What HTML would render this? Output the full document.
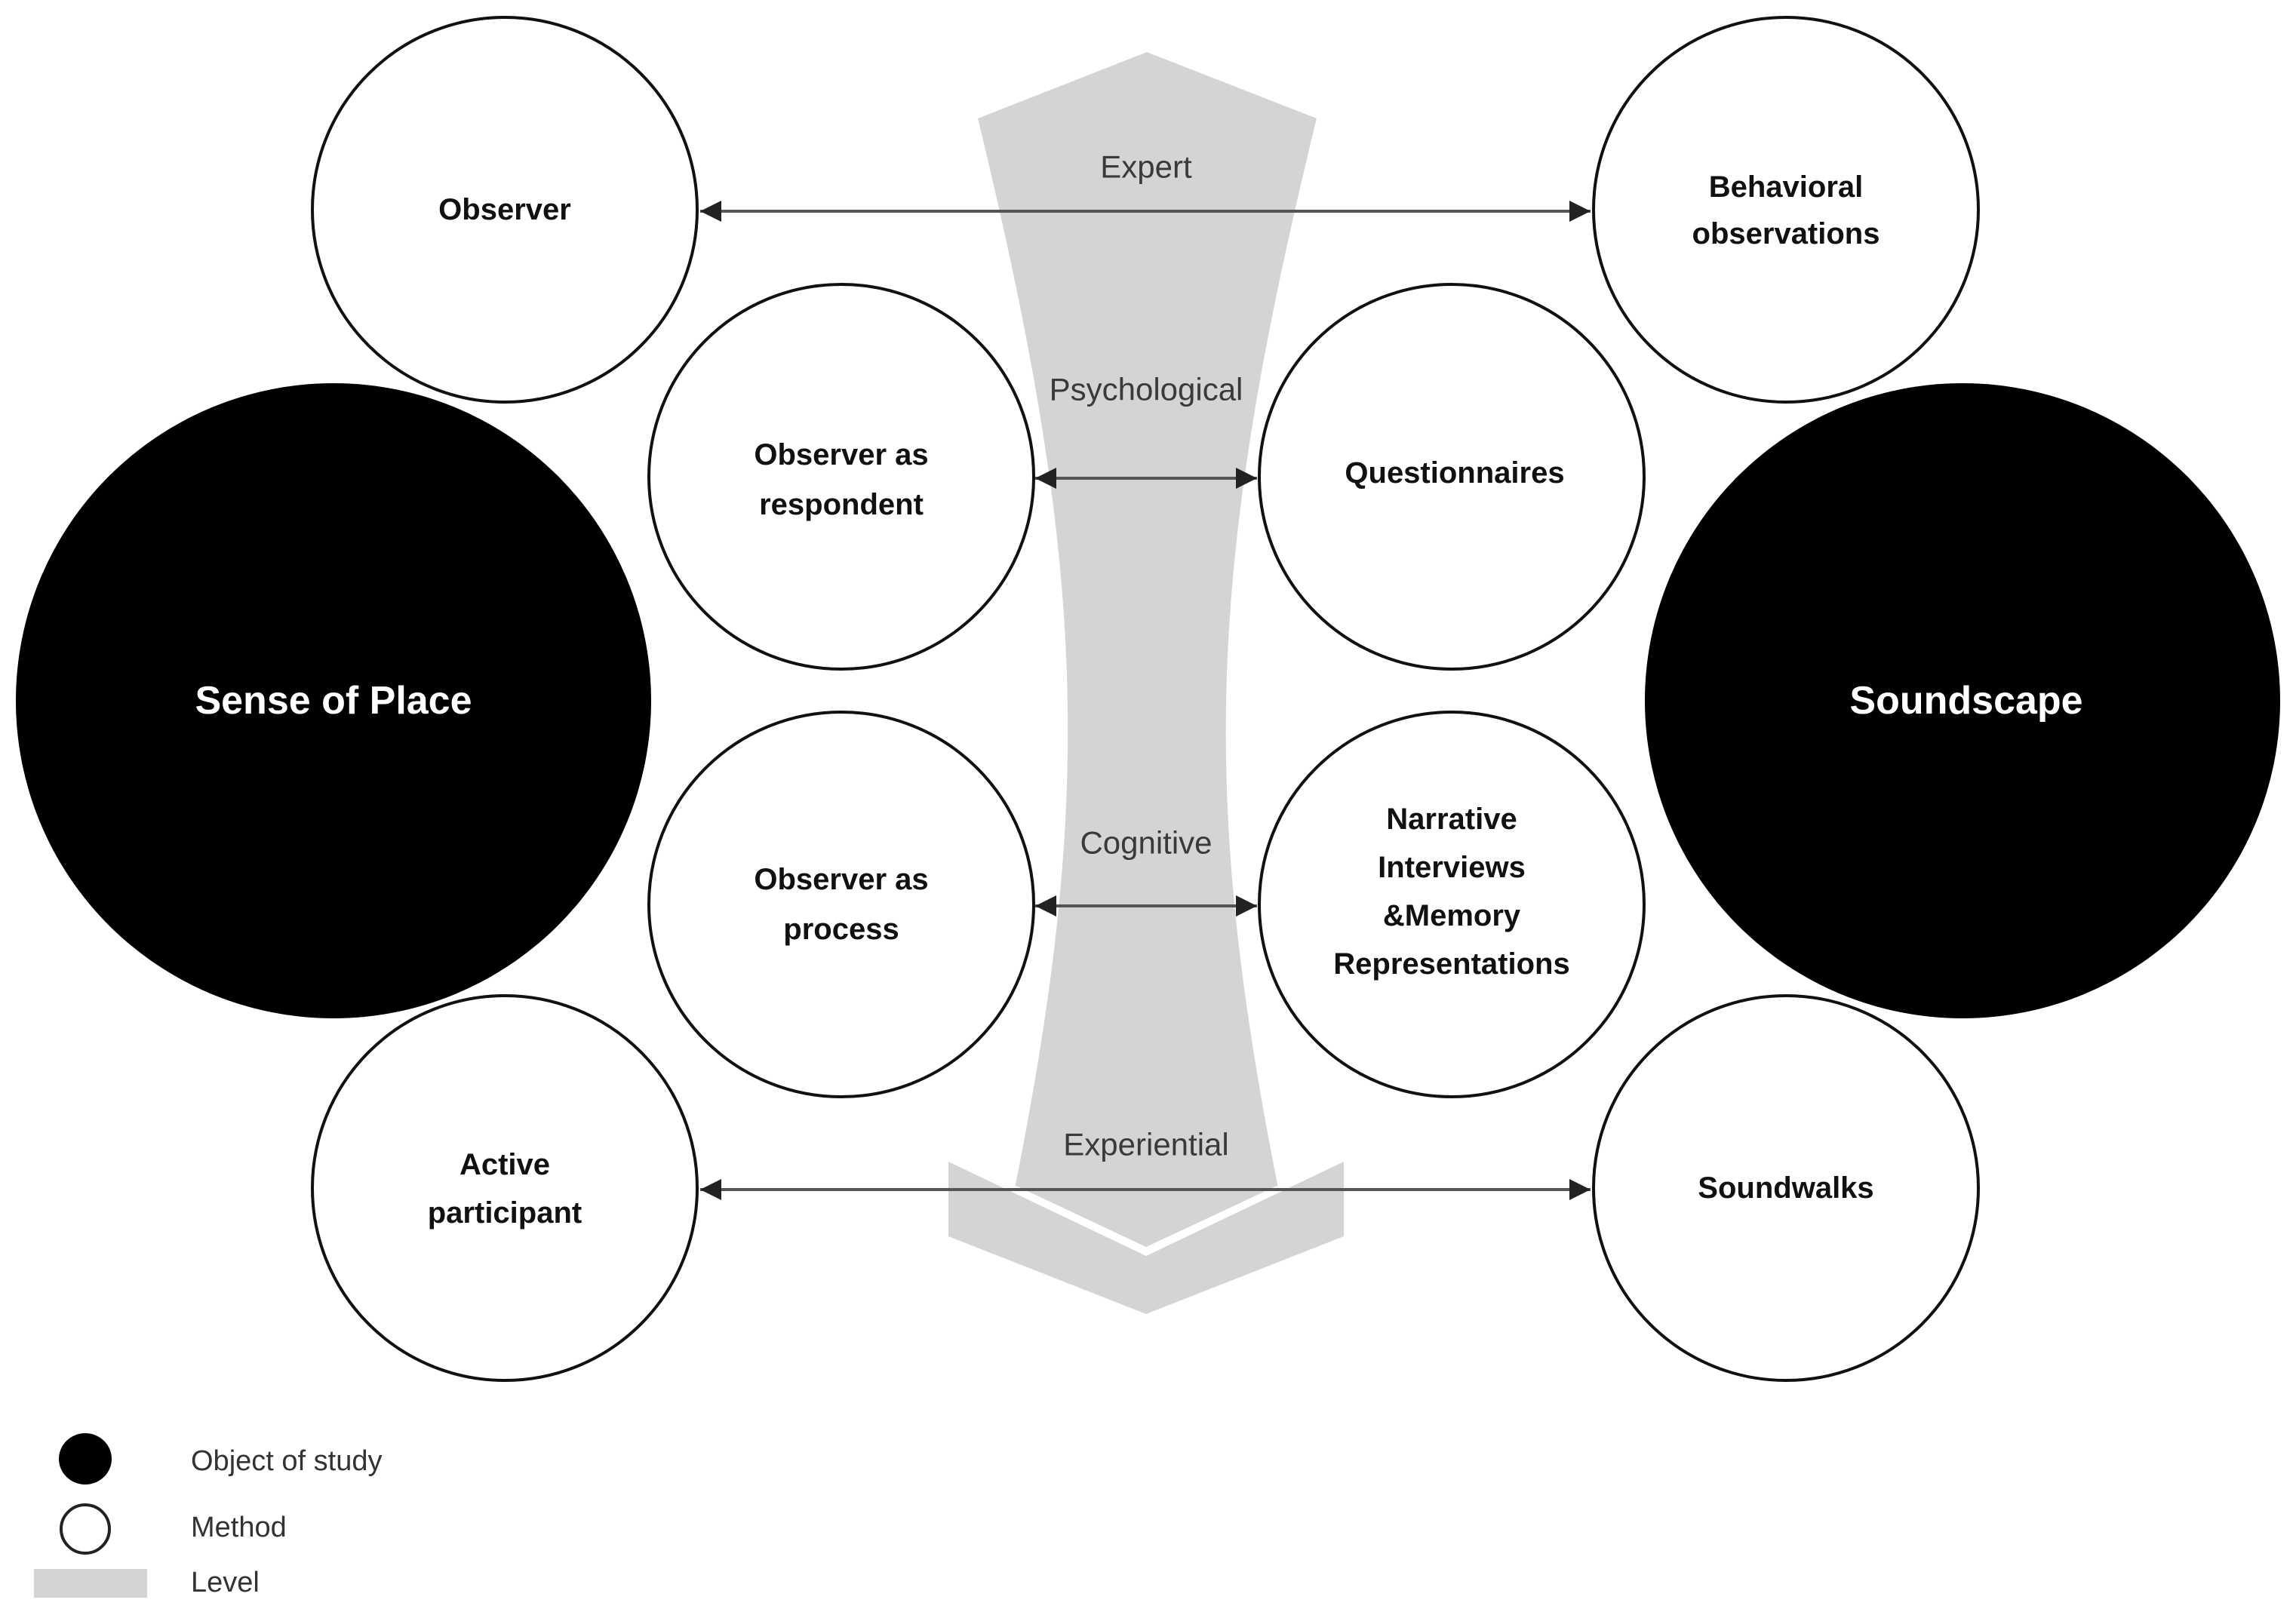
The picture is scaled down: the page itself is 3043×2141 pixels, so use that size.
<!DOCTYPE html>
<html><head><meta charset="utf-8"><style>
html,body{margin:0;padding:0;background:#fff;}
svg{display:block;}
.n{font-family:"Liberation Sans",sans-serif;font-weight:bold;font-size:40px;fill:#111;text-anchor:middle;dominant-baseline:central;}
.l{font-family:"Liberation Sans",sans-serif;font-size:42px;fill:#3a3a3a;text-anchor:middle;dominant-baseline:central;}
.g{font-family:"Liberation Sans",sans-serif;font-size:38px;fill:#333;}
</style></head><body>
<svg width="3043" height="2141" viewBox="0 0 3043 2141" xmlns="http://www.w3.org/2000/svg">
<defs>
<marker id="a" viewBox="0 0 10 10" refX="10" refY="5" markerWidth="7" markerHeight="7" orient="auto-start-reverse" markerUnits="strokeWidth">
<path d="M0,0 L10,5 L0,10 z" fill="#222"/></marker>
</defs>
<!-- level shape -->
<path d="M1257,1540 L1519,1665 L1781,1540 L1781,1639 L1519,1742 L1257,1639 Z" fill="#d4d4d4"/>
<path d="M1296,157 L1520,69 L1745,157 C1600,750 1590,1050 1694,1575 L1519,1657 L1345,1575 C1450,1050 1440,750 1296,157 Z" fill="#d4d4d4"/>
<path d="M1345,1575 L1519,1657 L1694,1575" fill="none" stroke="#fff" stroke-width="7"/>
<!-- connectors -->
<g stroke="#555" stroke-width="4" fill="none">
<line x1="928" y1="280" x2="2108" y2="280" marker-start="url(#a)" marker-end="url(#a)"/>
<line x1="1372" y1="634" x2="1666" y2="634" marker-start="url(#a)" marker-end="url(#a)"/>
<line x1="1372" y1="1201" x2="1666" y2="1201" marker-start="url(#a)" marker-end="url(#a)"/>
<line x1="928" y1="1577" x2="2108" y2="1577" marker-start="url(#a)" marker-end="url(#a)"/>
</g>
<!-- circles -->
<g fill="#fff" stroke="#111" stroke-width="4">
<circle cx="669" cy="278" r="255"/>
<circle cx="2367" cy="278" r="255"/>
<circle cx="1115" cy="632" r="255"/>
<circle cx="1924" cy="632" r="255"/>
<circle cx="1115" cy="1199" r="255"/>
<circle cx="1924" cy="1199" r="255"/>
<circle cx="669" cy="1575" r="255"/>
<circle cx="2367" cy="1575" r="255"/>
</g>
<circle cx="442" cy="929" r="421" fill="#000"/>
<circle cx="2601" cy="929" r="421" fill="#000"/>
<!-- level labels -->
<text class="l" x="1519" y="221">Expert</text>
<text class="l" x="1519" y="516">Psychological</text>
<text class="l" x="1519" y="1117">Cognitive</text>
<text class="l" x="1519" y="1517">Experiential</text>
<!-- node labels -->
<text class="n" x="669" y="278">Observer</text>
<text class="n" x="2367" y="248">Behavioral</text>
<text class="n" x="2367" y="310">observations</text>
<text class="n" x="1115" y="603">Observer as</text>
<text class="n" x="1115" y="669">respondent</text>
<text class="n" x="1928" y="627">Questionnaires</text>
<text class="n" x="1115" y="1166">Observer as</text>
<text class="n" x="1115" y="1232">process</text>
<text class="n" x="1924" y="1086">Narrative</text>
<text class="n" x="1924" y="1150">Interviews</text>
<text class="n" x="1924" y="1214">&amp;Memory</text>
<text class="n" x="1924" y="1278">Representations</text>
<text class="n" x="669" y="1544">Active</text>
<text class="n" x="669" y="1608">participant</text>
<text class="n" x="2367" y="1575">Soundwalks</text>
<text class="n" x="442" y="929" style="fill:#fff;font-size:52px">Sense of Place</text>
<text class="n" x="2606" y="929" style="fill:#fff;font-size:52px">Soundscape</text>
<!-- legend -->
<ellipse cx="113" cy="1934" rx="35" ry="34" fill="#000"/>
<ellipse cx="113" cy="2027" rx="32" ry="32" fill="#fff" stroke="#222" stroke-width="4"/>
<rect x="45" y="2080" width="150" height="38" fill="#d4d4d4"/>
<text class="g" x="253" y="1949">Object of study</text>
<text class="g" x="253" y="2037">Method</text>
<text class="g" x="253" y="2110">Level</text>
</svg>
</body></html>
